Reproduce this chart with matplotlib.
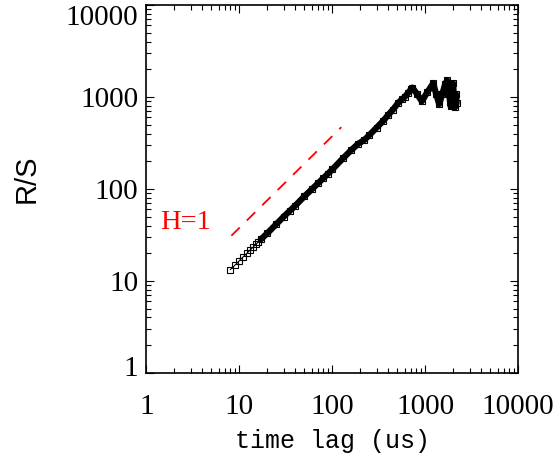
import matplotlib
matplotlib.use("Agg")
import matplotlib.pyplot as plt
import matplotlib.transforms as mtransforms

# R/S analysis
lag = [8, 9, 10, 11, 12, 13, 14, 15, 16, 17,
       20, 25, 30, 35, 40, 50, 60, 70, 80, 90, 100, 130, 160, 190, 220, 250,
       300, 350, 400, 450, 514, 560, 600, 650, 700, 726,
       821, 918, 1050, 1219, 1312, 1413, 1521, 1637, 1718, 1806, 1875,
       1945, 1991, 2042, 2093, 2147, 2175]
rs = [13.3, 14.9, 16.6, 18.3, 19.9, 21.6, 23.2, 24.9, 26.6, 28.3,
      33, 41.5, 50, 58, 66, 83, 99, 115, 131, 147, 163, 215, 265, 310, 340, 385,
      465, 545, 640, 730, 870, 940, 1000, 1100, 1210, 1265,
      1069, 897, 1125, 1410, 1069, 834, 1069, 1374, 1517, 1069, 792,
      1153, 1410, 944, 773, 1069, 855]

# reference line H=1
h_lag = [8.2, 125]
h_rs = [31, 470]

ticks = [1, 10, 100, 1000, 10000]
tick_labels = ["1", "10", "100", "1000", "10000"]

fig = plt.figure(figsize=(5.59, 4.62), dpi=100)
ax = plt.axes([0.262, 0.193, 0.665, 0.796])

ax.plot(h_lag, h_rs, color="red", lw=1.3, ls=(0, (6.5, 5.5)))
ax.plot(lag[9:], rs[9:], color="black", lw=4.5, solid_capstyle="round", solid_joinstyle="round")
ax.plot(lag, rs, color="black", lw=0.8, marker="s", ms=4.5, mfc="none", mew=0.8)

ax.set_xscale("log")
ax.set_yscale("log")
ax.set_xlim(1, 10000)
ax.set_ylim(1, 10000)
ax.set_xticks(ticks)
ax.set_yticks(ticks)
ax.set_xticklabels(tick_labels)
ax.set_yticklabels(tick_labels)

for s in ax.spines.values():
    s.set_linewidth(1.2)
ax.tick_params(which="both", direction="in", top=True, right=True, width=0.8)
ax.tick_params(which="major", length=5.8)
ax.tick_params(which="minor", length=3.6)
ax.tick_params(axis="x", which="major", pad=15)
ax.tick_params(axis="y", which="major", pad=6)
for t in ax.get_xticklabels() + ax.get_yticklabels():
    t.set_fontfamily("Liberation Serif")
    t.set_fontsize(21)

# keep the end labels of the y axis inside the frame, as in the original
ylabs = ax.get_yticklabels()
ylabs[-1].set_transform(ylabs[-1].get_transform() +
                        mtransforms.ScaledTranslation(0, -10 / 100, fig.dpi_scale_trans))
ylabs[0].set_transform(ylabs[0].get_transform() +
                       mtransforms.ScaledTranslation(0, 7 / 100, fig.dpi_scale_trans))

ax.set_xlabel("time lag (us)", fontfamily="Liberation Mono", fontsize=18)
ax.xaxis.set_label_coords(0.5, -0.152)
ax.set_ylabel("R/S", fontfamily="Liberation Sans", fontsize=21)
ax.yaxis.set_label_coords(-0.285, 0.527)

ax.text(0.036, 0.41, "H=1", color="red", fontfamily="Liberation Serif", fontsize=20.5,
        transform=ax.transAxes, ha="left", va="center")

plt.savefig("out.png", dpi=100)
